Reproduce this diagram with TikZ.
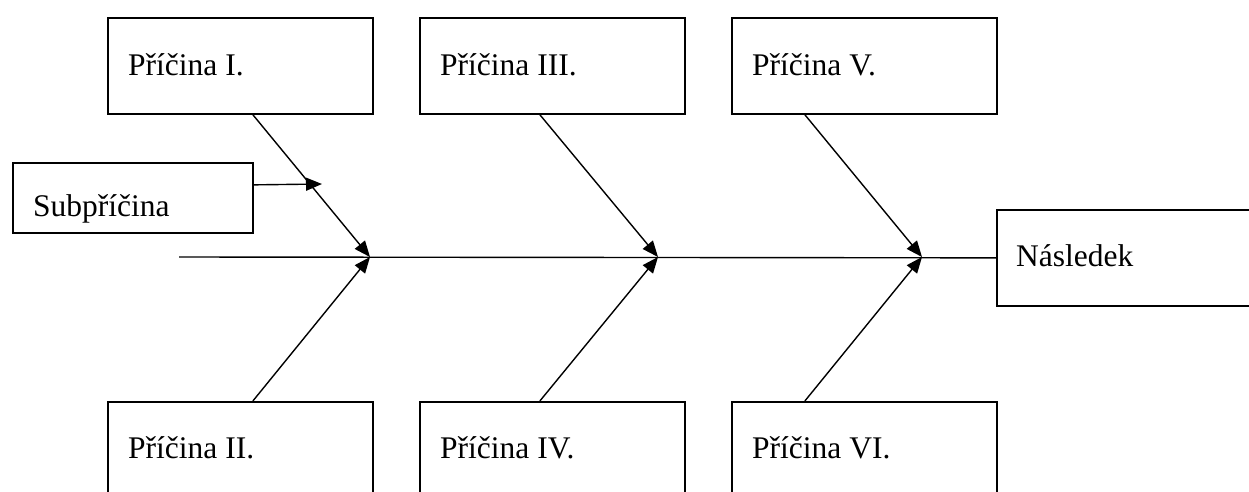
\documentclass[tikz,border=0pt]{standalone}
\usepackage{fontspec}
\setmainfont{Liberation Serif}
\usetikzlibrary{arrows.meta}
\begin{document}
\begin{tikzpicture}[x=1pt,y=-1pt,
  box/.style={draw, line width=1.7pt, rectangle, inner sep=0pt, anchor=north west},
  causebox/.style={box, minimum width=265pt, minimum height=96pt},
  lbl/.style={anchor=base west, inner sep=0pt, font=\fontsize{31.5}{38}\selectfont},
  conn/.style={line width=1.4pt, -{Triangle[length=16pt,width=13pt]}},
  spine/.style={line width=1.4pt}
]
\useasboundingbox (0,0) rectangle (1249,491);
\clip (0,0) rectangle (1249,491);
% top cause boxes
\node[causebox] (c1) at (107,17) {};
\node[causebox] (c3) at (419,17) {};
\node[causebox] (c5) at (731,17) {};
% bottom cause boxes
\node[causebox] (c2) at (107,401) {};
\node[causebox] (c4) at (419,401) {};
\node[causebox] (c6) at (731,401) {};
% sub cause and effect
\node[box, minimum width=240pt, minimum height=70pt] (sub) at (12,162) {};
\node[causebox] (nas) at (996,209) {};
% labels
\node[lbl] (t1) at (128,75) {Příčina I.};
\node[lbl] (t3) at (440,75) {Příčina III.};
\node[lbl] (t5) at (752,75) {Příčina V.};
\node[lbl] (t2) at (128,458) {Příčina II.};
\node[lbl] (t4) at (440,458) {Příčina IV.};
\node[lbl] (t6) at (752,458) {Příčina VI.};
\node[lbl] (ts) at (33,216) {Subpříčina};
\node[lbl] (tn) at (1016,266) {Následek};
% junctions
\coordinate (tail) at (179,257);
\coordinate (j1) at (370,257);
\coordinate (j2) at (658,257);
\coordinate (j3) at (922,257);
\coordinate (s1) at (322,184);
% spine
\draw[spine] (tail) -- (nas.west);
% bones
\draw[conn] ([xshift=12.5pt]c1.south) -- (j1);
\draw[conn] ([xshift=12.5pt]c2.north) -- (j1);
\draw[conn] ([xshift=-12.5pt]c3.south) -- (j2);
\draw[conn] ([xshift=-12.5pt]c4.north) -- (j2);
\draw[conn] ([xshift=-59.5pt]c5.south) -- (j3);
\draw[conn] ([xshift=-59.5pt]c6.north) -- (j3);
% sub cause
\draw[conn] ([yshift=13pt]sub.east) -- (s1);
\end{tikzpicture}
\end{document}
